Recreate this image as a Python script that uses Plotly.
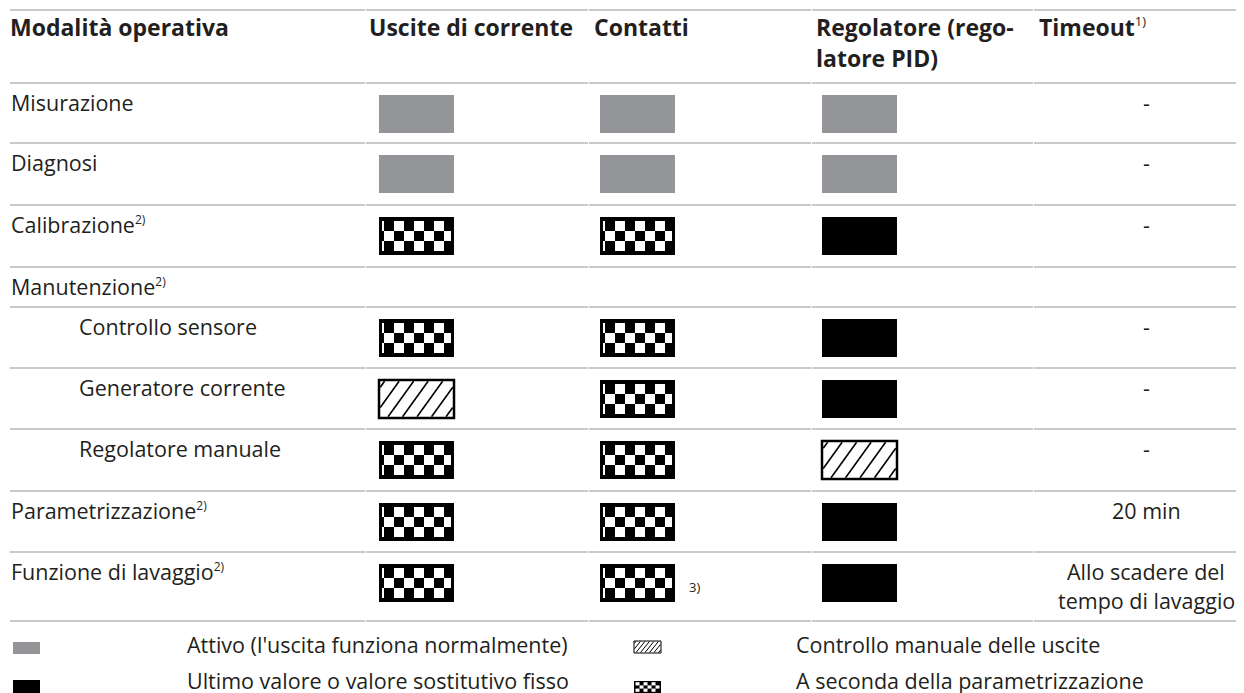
import plotly.graph_objects as go

# ---------------- data ----------------
modes = ["Misurazione", "Diagnosi", "Calibrazione", "Manutenzione", "Controllo sensore",
         "Generatore corrente", "Regolatore manuale", "Parametrizzazione", "Funzione di lavaggio"]
mode_notes = ["", "", "2)", "2)", "", "", "", "2)", "2)"]
mode_indent = [0, 0, 0, 0, 1, 1, 1, 0, 0]
header_first = "Modalità operativa"
headers = [["Uscite di corrente"], ["Contatti"], ["Regolatore (rego-", "latore PID)"], ["Timeout"]]
header_notes = ["", "", "", "1)"]
uscite = ["attivo", "attivo", "param", None, "param", "manuale", "param", "param", "param"]
contatti = ["attivo", "attivo", "param", None, "param", "param", "param", "param", "param"]
contatti_notes = ["", "", "", "", "", "", "", "", "3)"]
regolatore = ["attivo", "attivo", "fisso", None, "fisso", "fisso", "manuale", "fisso", "fisso"]
timeout = [["-"], ["-"], ["-"], [], ["-"], ["-"], ["-"], ["20 min"], ["Allo scadere del", "tempo di lavaggio"]]
legend_states = ["attivo", "fisso", "manuale", "param"]
legend_labels = ["Attivo (l'uscita funziona normalmente)", "Ultimo valore o valore sostitutivo fisso",
                 "Controllo manuale delle uscite", "A seconda della parametrizzazione"]

# ---------------- layout constants ----------------
W, H = 1244, 693
OFF = 8  # page body margin
FONT = "Open Sans"
TXT = "#231f20"
GRAY = "#939598"
LINE = "#c9c9c9"
top_line = 10
row_lines = [83, 143, 205, 267, 307, 368, 429, 491, 552, 621]
col_breaks = [10, 365, 588, 811, 1033, 1244]
col_text_x = [367, 592, 814, 1037]
box_x = [379, 600, 822]
box_w, box_h = 75, 38
timeout_cx = 1146
FS = 21.5
HFS = 23


def sup(s, size=12):
    return '<sup><span style="font-size:%dpx">%s</span></sup>' % (size, s) if s else ""


fig = go.Figure()
shapes = []
ann = []


def rect(x0, y0, x1, y1, fill, line_color=None, lw=0):
    shapes.append(dict(type="rect", xref="x", yref="y", x0=x0, y0=y0, x1=x1, y1=y1,
                       fillcolor=fill, line=dict(color=line_color or fill, width=lw), layer="above"))


def hatch(x0, y0, w, h, spacing, slope, lw, border):
    rect(x0, y0, x0 + w, y0 + h, "white", "black", border)
    ix0, ix1, iyt, iyb = x0 + border / 2, x0 + w - border / 2, y0 + border / 2, y0 + h - border / 2
    hh = iyb - iyt
    span = slope * hh
    a = ix0 - span + spacing * 0.3
    while a < ix1:
        t0 = max(0.0, (ix0 - a) / span)
        t1 = min(1.0, (ix1 - a) / span)
        if t1 > t0:
            shapes.append(dict(type="line", xref="x", yref="y",
                               x0=a + t0 * span, y0=iyb - t0 * hh, x1=a + t1 * span, y1=iyb - t1 * hh,
                               line=dict(color="black", width=lw), layer="above"))
        a += spacing


def checker(x0, y0, w, h, cell, bx, by, phase):
    rect(x0, y0, x0 + w, y0 + h, "black")
    ix0, ix1 = x0 + bx, x0 + w - bx
    iy0, iy1 = y0 + by, y0 + h - by
    nrows = 3
    rh = (iy1 - iy0) / nrows
    for r in range(nrows):
        ya, yb = iy0 + r * rh, min(iy0 + (r + 1) * rh, H + OFF)
        start = x0 + phase + (0 if r % 2 == 0 else cell) - 2 * cell
        xa = start
        while xa < ix1:
            ca, cb = max(xa, ix0), min(xa + cell, ix1)
            if cb - ca > 0.3:
                rect(ca, ya, cb, yb, "white")
            xa += 2 * cell


def draw_state(state, x0, y0, w, h, small=False):
    if state is None:
        return
    if state == "attivo":
        rect(x0, y0, x0 + w, y0 + h, GRAY)
    elif state == "fisso":
        rect(x0, y0, x0 + w, y0 + h, "black")
    elif state == "manuale":
        if small:
            hatch(x0, y0, w, h, 4.5, 0.8, 1, 1)
        else:
            hatch(x0, y0, w, h, 14.5, 0.72, 1.6, 2.5)
    elif state == "param":
        if small:
            checker(x0, y0, w, h, 4.0, 1.2, 1.2, 1.5)
        else:
            checker(x0, y0, w, h, 10.0, 3, 4, 15)


def text(x, y, s, size=FS, bold=False, xanchor="left"):
    if bold:
        s = "<b>" + s + "</b>"
    ann.append(dict(x=x, y=y, xref="x", yref="y", text=s, showarrow=False, xanchor=xanchor,
                    yanchor="middle", font=dict(family=FONT, size=size, color=TXT)))


# horizontal rules
for y in [top_line] + row_lines:
    for i in range(len(col_breaks) - 1):
        shapes.append(dict(type="line", xref="x", yref="y", x0=col_breaks[i] + (1 if i else 0), x1=col_breaks[i + 1],
                           y0=y, y1=y, line=dict(color=LINE, width=2), layer="below"))

# header
text(8, 27, header_first, size=HFS, bold=True)
for ci, lines in enumerate(headers):
    for li, s in enumerate(lines):
        note = sup(header_notes[ci], 13) if li == 0 else ""
        text(col_text_x[ci], 27 + 31 * li, "<b>" + s + "</b>" + note, size=HFS)

# rows
for ri, m in enumerate(modes):
    ly = row_lines[ri]
    x = 77 if mode_indent[ri] else 9
    text(x, ly + 19, m + sup(mode_notes[ri]))
    by = ly + 12
    for ci, col in enumerate([uscite, contatti, regolatore]):
        draw_state(col[ri], box_x[ci], by, box_w, box_h)
    if contatti_notes[ri]:
        text(box_x[1] + box_w + 12, by + 23, contatti_notes[ri], size=13)
    for li, s in enumerate(timeout[ri]):
        text(timeout_cx, ly + 19 + 29 * li, s, xanchor="center")

# legend
leg_pos = [(13, 642, 12, 185, 644), (13, 680, 13, 185, 680), (634, 641, 12, 794, 644), (634, 681, 12, 794, 680)]
for st, lab, (bx, by, bh, tx, ty) in zip(legend_states, legend_labels, leg_pos):
    draw_state(st, bx, by, 27, bh, small=True)
    text(tx, ty, lab)

fig.update_layout(
    width=W, height=H, margin=dict(l=0, r=0, t=0, b=0),
    paper_bgcolor="white", plot_bgcolor="white",
    xaxis=dict(range=[OFF, W + OFF], visible=False, fixedrange=True),
    yaxis=dict(range=[H + OFF, OFF], visible=False, fixedrange=True),
    shapes=shapes, annotations=ann, showlegend=False,
)
fig.write_html("out.html", config=dict(displayModeBar=False))
